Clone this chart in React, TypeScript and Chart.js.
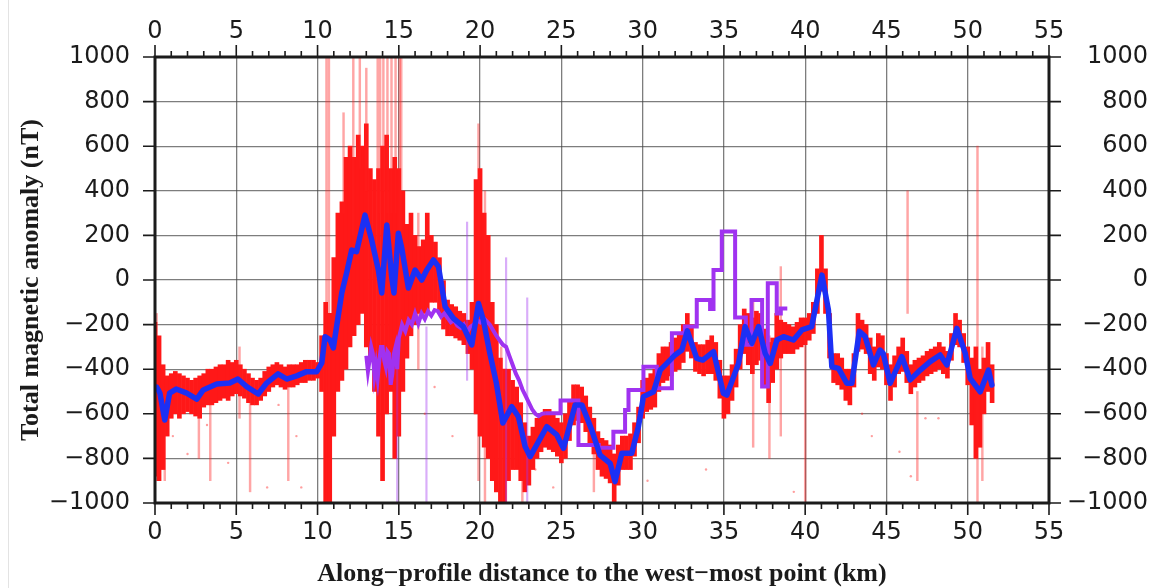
import React, { useEffect, useRef } from 'react';
import { Chart, registerables } from 'chart.js';

Chart.register(...registerables);

// Axis extents and tick steps
const X_MIN = 0;
const X_MAX = 55;
const X_MAJOR = 5;
const Y_MIN = -1000;
const Y_MAX = 1000;
const Y_MAJOR = 200;

// Smoothed profile (blue), km / nT
const smoothX = [0.1, 0.3, 0.6, 0.9, 1.3, 1.95, 2.57, 2.97, 3.8, 4.6, 5.1, 5.64, 6.35, 6.87, 7.57, 8.1, 8.72, 9.33, 9.95, 10.26,
  10.46, 10.77, 10.97, 11.49, 11.8, 12.1, 12.4, 12.92, 13.33, 13.74, 13.95, 14.26, 14.56, 14.7, 14.97, 15.18, 15.59, 16.0, 16.41, 16.72,
  17.13, 17.44, 17.85, 18.36, 18.97, 19.49, 19.9, 20.2, 20.6, 21.0, 21.4, 21.95, 22.36, 22.77, 23.08, 24.1, 24.72, 25.13, 25.85, 26.26,
  26.87, 27.38, 28.0, 28.3, 28.72, 29.33, 29.74, 30.05, 30.67, 31.08, 31.49, 32.0, 32.41, 32.75, 33.33, 33.7, 34.36, 34.97, 35.18, 35.9,
  36.3, 36.72, 37.13, 37.54, 37.85, 38.26, 38.67, 39.28, 39.8, 40.4, 41.03, 41.43, 41.64, 42.05, 42.56, 42.87, 43.33, 43.69, 44.2, 44.6,
  44.8, 45.23, 45.95, 46.46, 47.08, 47.69, 48.3, 48.72, 49.33, 49.85, 50.15, 50.77, 51.28, 51.49];
const smoothY = [-480, -507, -628, -507, -489, -507, -534, -493, -466, -462, -444, -478, -511, -462, -421, -444, -430, -411, -411, -372,
  -254, -269, -305, -58, 35, 134, 127, 291, 179, 45, -58, 247, 15, -58, 210, 143, -36, 45, 0, 45,
  90, 60, -120, -172, -209, -291, -105, -179, -328, -462, -641, -568, -613, -747, -792, -658, -695, -755, -560, -560,
  -673, -785, -822, -904, -777, -777, -658, -523, -501, -404, -374, -336, -314, -228, -351, -359, -321, -508, -516, -374,
  -209, -284, -209, -329, -374, -269, -254, -269, -224, -209, 22, -135, -389, -396, -463, -463, -230, -254, -381, -314,
  -329, -463, -344, -448, -404, -366, -336, -381, -217, -329, -441, -501, -404, -471];

// Model profile (purple): irregular part, then a stepped part
const modelLineX = [13.0, 13.1, 13.2, 13.3, 13.4, 13.5, 13.6, 13.7, 13.8, 13.9, 14.0, 14.1, 14.2, 14.3, 14.4, 14.5, 14.6, 14.7, 14.8, 14.9,
  15.0, 15.2, 15.4, 15.6, 15.8, 16.0, 16.2, 16.4, 16.6, 16.8, 17.0, 17.2, 17.4, 17.6, 17.8, 18.0, 18.2, 18.4, 18.6, 18.8,
  19.0, 19.2, 19.4, 19.6, 19.8, 20.0, 20.2, 20.4, 20.6, 20.8, 21.0, 21.2, 21.4, 21.6, 21.8, 22.0, 22.2, 22.4, 22.6, 22.8,
  23.0, 23.2, 23.4, 23.6, 23.8, 24.0];
const modelLineY = [-340, -410, -360, -300, -330, -430, -380, -440, -360, -300, -300, -360, -390, -320, -330, -470, -420, -330, -300, -400,
  -260, -200, -230, -180, -200, -150, -195, -150, -175, -140, -160, -135, -140, -165, -150, -170, -190, -180, -205, -215,
  -200, -235, -210, -200, -180, -190, -170, -185, -200, -225, -250, -270, -290, -300, -340, -380, -420, -450, -490, -520,
  -550, -580, -600, -610, -600, -598];
const modelStepX = [24.0, 24.95, 26.05, 27.3, 28.2, 28.92, 29.13, 30.05, 30.87, 31.8, 32.6, 33.33, 34.15, 34.36, 34.87, 35.69, 36.35,
  36.7, 37.35, 37.7, 38.25, 38.5, 38.9];
const modelStepY = [-598, -540, -740, -752, -680, -583, -493, -389, -485, -239, -209, -90, -130, 45, 217, -168, -290,
  -90, -478, -15, -150, -128, -128];

// Raw readings: dense band per 0.25 km (one row per 5 km)
const rawX = [
  0, 0.25, 0.5, 0.75, 1, 1.25, 1.5, 1.75, 2, 2.25, 2.5, 2.75, 3, 3.25, 3.5, 3.75, 4, 4.25, 4.5, 4.75,
  5, 5.25, 5.5, 5.75, 6, 6.25, 6.5, 6.75, 7, 7.25, 7.5, 7.75, 8, 8.25, 8.5, 8.75, 9, 9.25, 9.5, 9.75,
  10, 10.25, 10.5, 10.75, 11, 11.25, 11.5, 11.75, 12, 12.25, 12.5, 12.75, 13, 13.25, 13.5, 13.75, 14, 14.25, 14.5, 14.75,
  15, 15.25, 15.5, 15.75, 16, 16.25, 16.5, 16.75, 17, 17.25, 17.5, 17.75, 18, 18.25, 18.5, 18.75, 19, 19.25, 19.5, 19.75,
  20, 20.25, 20.5, 20.75, 21, 21.25, 21.5, 21.75, 22, 22.25, 22.5, 22.75, 23, 23.25, 23.5, 23.75, 24, 24.25, 24.5, 24.75,
  25, 25.25, 25.5, 25.75, 26, 26.25, 26.5, 26.75, 27, 27.25, 27.5, 27.75, 28, 28.25, 28.5, 28.75, 29, 29.25, 29.5, 29.75,
  30, 30.25, 30.5, 30.75, 31, 31.25, 31.5, 31.75, 32, 32.25, 32.5, 32.75, 33, 33.25, 33.5, 33.75, 34, 34.25, 34.5, 34.75,
  35, 35.25, 35.5, 35.75, 36, 36.25, 36.5, 36.75, 37, 37.25, 37.5, 37.75, 38, 38.25, 38.5, 38.75, 39, 39.25, 39.5, 39.75,
  40, 40.25, 40.5, 40.75, 41, 41.25, 41.5, 41.75, 42, 42.25, 42.5, 42.75, 43, 43.25, 43.5, 43.75, 44, 44.25, 44.5, 44.75,
  45, 45.25, 45.5, 45.75, 46, 46.25, 46.5, 46.75, 47, 47.25, 47.5, 47.75, 48, 48.25, 48.5, 48.75, 49, 49.25, 49.5, 49.75,
  50, 50.25, 50.5, 50.75, 51, 51.25, 51.5];
const rawLow = [
  -880, -900, -850, -700, -620, -600, -620, -600, -590, -600, -610, -620, -570, -560, -560, -550, -540, -530, -540, -520,
  -510, -520, -530, -550, -560, -560, -540, -520, -500, -480, -470, -480, -490, -480, -480, -470, -460, -460, -450, -450,
  -440, -500, -1000, -1000, -700, -500, -450, -400, -300, -250, -200, -150, -300, -350, -500, -700, -900, -600, -500, -800,
  -700, -500, -350, -250, -200, -150, -150, -150, -100, -100, -150, -220, -250, -250, -260, -270, -290, -330, -400, -600,
  -700, -750, -800, -900, -950, -1000, -1000, -900, -850, -850, -900, -950, -920, -850, -800, -770, -750, -760, -770, -790,
  -820, -800, -720, -650, -630, -640, -680, -730, -780, -850, -880, -890, -910, -1000, -920, -850, -850, -850, -790, -730,
  -620, -590, -580, -570, -500, -460, -450, -430, -410, -400, -370, -320, -350, -410, -420, -430, -420, -420, -450, -530,
  -620, -600, -540, -480, -400, -330, -380, -420, -380, -360, -480, -550, -460, -400, -350, -330, -330, -330, -310, -300,
  -290, -270, -240, -150, -50, -150, -350, -460, -470, -490, -540, -560, -480, -320, -310, -330, -420, -450, -390, -400,
  -470, -540, -480, -420, -410, -460, -510, -480, -460, -450, -430, -420, -410, -400, -420, -440, -360, -290, -300, -370,
  -470, -650, -800, -750, -600, -500, -550];
const rawHigh = [
  -190, -250, -380, -430, -420, -410, -420, -430, -440, -450, -440, -430, -420, -400, -400, -390, -380, -380, -360, -370,
  -360, -380, -400, -420, -440, -450, -440, -410, -390, -380, -370, -380, -390, -380, -380, -380, -370, -360, -360, -360,
  -370, -250, -100, -150, 100, 300, 350, 550, 600, 550, 650, 600, 700, 500, 450, 500, 600, 650, 500, 550,
  500, 400, 250, 300, 200, 150, 180, 300, 200, 170, 100, 0, -90, -110, -120, -140, -150, -180, -100, 450,
  500, 300, 200, -100, -200, -350, -400, -400, -450, -480, -550, -640, -700, -660, -620, -600, -580, -580, -600, -620,
  -640, -600, -540, -470, -470, -480, -520, -570, -620, -680, -710, -720, -740, -780, -740, -700, -700, -690, -640, -570,
  -450, -440, -420, -400, -330, -300, -300, -280, -260, -240, -200, -150, -200, -280, -290, -290, -270, -250, -280, -360,
  -430, -430, -380, -310, -200, -130, -150, -170, -140, -150, -220, -280, -260, -150, -180, -190, -200, -210, -190, -170,
  -170, -150, -100, 50, 200, 50, -150, -330, -330, -350, -400, -400, -330, -150, -180, -200, -260, -300, -240, -250,
  -330, -380, -340, -300, -260, -320, -380, -360, -350, -340, -320, -310, -300, -280, -300, -320, -240, -150, -180, -240,
  -300, -350, -300, -400, -350, -280, -380];

// Sparse outlying streaks of raw readings
const streakX = [0.1, 0.6, 2.7, 3.4, 5.2, 5.85, 8.2, 10.55, 10.7, 11.6, 12.2, 12.6, 13.0, 13.7, 13.85, 14.05, 14.3, 14.55, 14.8, 15.05,
  15.15, 16.2, 19.9, 20.3, 21.3, 22.6, 27.0, 36.8, 37.8, 38.5, 40.0, 46.3, 46.9, 50.6, 50.9];
const streakLow = [-900, -900, -800, -900, -620, -950, -900, -1000, -1000, 300, 200, 500, 400, -300, 300, 400, 300, 300, 300, -300,
  200, -400, -900, -1000, -1000, -1000, -950, -750, -800, -700, -1000, -150, -900, -1000, -900];
const streakHigh = [-150, -500, -500, -550, -300, -480, -460, 1000, 1000, 750, 1000, 1000, 950, 1000, 1000, 1000, 1000, 1000, 1000, 1000,
  1000, 300, 700, 400, -300, -700, -700, -100, -250, 60, -200, 400, -500, 600, -300];

// Isolated raw readings away from the band
const strayX = [1.1, 2.0, 3.2, 4.5, 6.9, 7.6, 8.7, 9.0, 16.6, 17.2, 18.3, 23.4, 24.5, 30.3, 33.9, 39.3, 43.5, 44.1, 45.8, 46.5, 47.4, 48.2];
const strayY = [-700, -780, -650, -820, -930, -560, -700, -930, -600, -480, -700, -850, -930, -900, -850, -950, -600, -700, -770, -880, -620, -620];

// Model outlier streaks (purple)
const modelStreakX = [14.9, 16.7, 19.2, 21.6, 22.9];
const modelStreakLow = [-1000, -1000, -450, -1000, -1000];
const modelStreakHigh = [-380, -210, 260, 100, -80];

const toXY = (xs: number[], ys: number[]) => xs.map((x, i) => ({ x, y: ys[i] }));
const toRange = (xs: number[], lo: number[], hi: number[]) => xs.map((x, i) => ({ x, y: [lo[i], hi[i]] }));
const fmt = (v: any) => (Number(v) < 0 ? '\u2212' + Math.abs(Number(v)) : String(v));

const TICK_FONT = { family: '"DejaVu Sans", sans-serif', size: 24 };
const TITLE_FONT = { family: '"Liberation Serif", "Times New Roman", serif', size: 26, weight: 'bold' as const };
const TEXT_COLOR = '#1b1b1b';
const GRID_COLOR = 'rgba(70,70,70,0.7)';

const frameAndTicks = {
  id: 'frameAndTicks',
  beforeDraw(chart: any) {
    const { ctx, height } = chart;
    ctx.save();
    ctx.strokeStyle = '#e3e3e3';
    ctx.lineWidth = 1;
    ctx.beginPath();
    ctx.moveTo(8.5, 0);
    ctx.lineTo(8.5, height);
    ctx.stroke();
    ctx.restore();
  },
  afterDraw(chart: any) {
    const { ctx, chartArea: a, scales } = chart;
    const xs = scales.x;
    const ys = scales.y;
    ctx.save();
    ctx.strokeStyle = '#1b1b1b';
    ctx.lineWidth = 1.6;
    ctx.beginPath();
    for (let v = X_MIN; v <= X_MAX; v += 1) {
      const px = xs.getPixelForValue(v);
      const len = v % X_MAJOR === 0 ? 12 : 6;
      ctx.moveTo(px, a.bottom);
      ctx.lineTo(px, a.bottom + len);
      ctx.moveTo(px, a.top);
      ctx.lineTo(px, a.top - len);
    }
    for (let v = Y_MIN; v <= Y_MAX; v += Y_MAJOR) {
      const py = ys.getPixelForValue(v);
      ctx.moveTo(a.left, py);
      ctx.lineTo(a.left - 12, py);
      ctx.moveTo(a.right, py);
      ctx.lineTo(a.right + 12, py);
    }
    ctx.stroke();
    ctx.lineWidth = 3;
    ctx.strokeRect(a.left, a.top, a.right - a.left, a.bottom - a.top);
    ctx.restore();
  },
};

export default function App() {
  const canvasRef = useRef<HTMLCanvasElement>(null);

  useEffect(() => {
    const canvas = canvasRef.current;
    if (!canvas) return;
    const chart = new Chart(canvas, {
      type: 'line',
      data: {
        datasets: [
          {
            type: 'line',
            label: 'Smoothed',
            data: toXY(smoothX, smoothY),
            borderColor: 'rgb(28,48,245)',
            borderWidth: 5.5,
            pointRadius: 0,
            tension: 0,
            borderJoinStyle: 'round',
            borderCapStyle: 'round',
            order: 0,
          },
          {
            type: 'line',
            label: 'Model (stepped)',
            data: toXY(modelStepX, modelStepY),
            borderColor: 'rgb(160,50,240)',
            borderWidth: 4,
            pointRadius: 0,
            stepped: 'before',
            order: 1,
          },
          {
            type: 'line',
            label: 'Model',
            data: toXY(modelLineX, modelLineY),
            borderColor: 'rgb(160,50,240)',
            borderWidth: 4,
            pointRadius: 0,
            tension: 0,
            order: 2,
          },
          {
            type: 'bar',
            label: 'Model streaks',
            data: toRange(modelStreakX, modelStreakLow, modelStreakHigh),
            backgroundColor: 'rgba(160,50,240,0.4)',
            barThickness: 1.5,
            grouped: false,
            order: 3,
          },
          {
            type: 'line',
            label: 'Stray readings',
            data: toXY(strayX, strayY),
            showLine: false,
            pointRadius: 1.2,
            pointBorderWidth: 0,
            pointBackgroundColor: 'rgba(255,40,40,0.45)',
            order: 4,
          },
          {
            type: 'bar',
            label: 'Raw streaks',
            data: toRange(streakX, streakLow, streakHigh),
            backgroundColor: 'rgba(255,30,30,0.4)',
            barThickness: 1.8,
            grouped: false,
            order: 5,
          },
          {
            type: 'bar',
            label: 'Raw',
            data: toRange(rawX, rawLow, rawHigh),
            backgroundColor: 'rgb(255,24,24)',
            barThickness: 4,
            grouped: false,
            order: 6,
          },
        ] as any,
      },
      options: {
        animation: false,
        responsive: false,
        maintainAspectRatio: false,
        events: [],
        layout: { padding: { right: 9 } },
        plugins: { legend: { display: false }, tooltip: { enabled: false } },
        scales: {
          x: {
            type: 'linear',
            position: 'bottom',
            min: X_MIN,
            max: X_MAX,
            offset: false,
            afterFit: (s: any) => { s.height = 85; },
            ticks: { stepSize: X_MAJOR, padding: 15, font: TICK_FONT, color: TEXT_COLOR, maxRotation: 0, autoSkip: false, callback: fmt },
            grid: { color: GRID_COLOR, lineWidth: 1.3, drawTicks: false, offset: false },
            border: { display: false },
            title: {
              display: true,
              text: 'Along\u2212profile distance to the west\u2212most point (km)',
              font: TITLE_FONT,
              color: TEXT_COLOR,
              padding: { top: 0, bottom: -2 },
            },
          },
          x2: {
            type: 'linear',
            position: 'top',
            min: X_MIN,
            max: X_MAX,
            offset: false,
            afterFit: (s: any) => { s.height = 57; },
            ticks: { stepSize: X_MAJOR, padding: 11, font: TICK_FONT, color: TEXT_COLOR, maxRotation: 0, autoSkip: false, callback: fmt },
            grid: { display: false, drawTicks: false, offset: false },
            border: { display: false },
          },
          y: {
            type: 'linear',
            position: 'left',
            min: Y_MIN,
            max: Y_MAX,
            afterFit: (s: any) => { s.width = 155; },
            ticks: { stepSize: Y_MAJOR, padding: 25, font: TICK_FONT, color: TEXT_COLOR, callback: fmt },
            grid: { color: GRID_COLOR, lineWidth: 1.3, drawTicks: false },
            border: { display: false },
            title: {
              display: true,
              text: 'Total magnetic anomaly (nT)',
              font: TITLE_FONT,
              color: TEXT_COLOR,
              padding: { top: 16, bottom: 0 },
            },
          },
          y2: {
            type: 'linear',
            position: 'right',
            min: Y_MIN,
            max: Y_MAX,
            afterFit: (s: any) => { s.width = 99; },
            ticks: { stepSize: Y_MAJOR, padding: 20, crossAlign: 'far', font: TICK_FONT, color: TEXT_COLOR, callback: fmt },
            grid: { display: false, drawTicks: false },
            border: { display: false },
          },
        },
      } as any,
      plugins: [frameAndTicks],
    });
    return () => chart.destroy();
  }, []);

  return (
    <div style={{ position: 'absolute', left: 0, top: 0, width: 1157, height: 588, background: '#fff' }}>
      <canvas ref={canvasRef} width={1157} height={588} style={{ display: 'block', width: 1157, height: 588 }} />
    </div>
  );
}
